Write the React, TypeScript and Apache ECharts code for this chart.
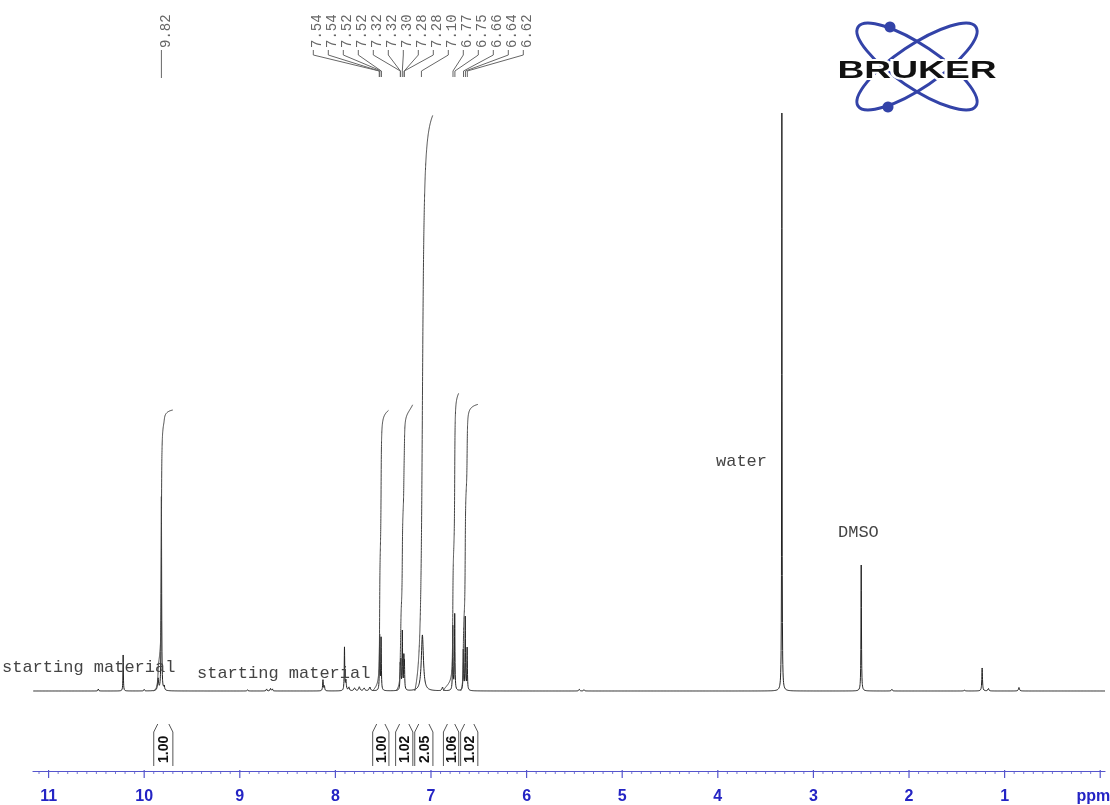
import React, { useEffect, useRef } from "react";
import * as echarts from "echarts";

// ---- spectrum peaks (ppm, height above baseline in plot units, half width in ppm)
const peakPpm = [10.48, 10.22, 10.0, 9.855, 9.82, 9.79, 8.92, 8.72, 8.68, 8.66, 8.13, 8.115, 7.905, 7.89, 7.86, 7.8, 7.75, 7.7, 7.64, 7.537, 7.522, 7.322, 7.316, 7.3, 7.284, 7.278, 7.09, 6.88, 6.772, 6.752, 6.662, 6.642, 6.622, 5.45, 5.4, 3.33, 2.5, 2.18, 1.42, 1.235, 1.17, 0.85];
const peakHeight = [2, 36, 1.5, 12, 194, 4, 1.5, 2.5, 3, 2.5, 11, 5, 43, 10, 4, 3, 4, 3, 4, 55, 52, 22, 26, 58, 30, 24, 56, 4, 64, 76, 40, 73, 42, 2, 1.5, 578, 126, 2, 1, 23, 3, 3.5];
const peakWidth = [0.004, 0.0025, 0.004, 0.006, 0.003, 0.004, 0.004, 0.004, 0.004, 0.004, 0.004, 0.004, 0.003, 0.005, 0.006, 0.008, 0.008, 0.008, 0.008, 0.003, 0.003, 0.003, 0.003, 0.003, 0.003, 0.003, 0.013, 0.006, 0.003, 0.003, 0.003, 0.003, 0.003, 0.005, 0.005, 0.0022, 0.0028, 0.005, 0.006, 0.004, 0.005, 0.006];

// ---- integrals
const integralFrom = [9.9, 7.61, 7.37, 7.17, 6.87, 6.69];
const integralTo = [9.7, 7.44, 7.19, 6.98, 6.71, 6.51];
const integralValue = [1.0, 1.0, 1.02, 2.05, 1.06, 1.02];
const integralLabels = ["1.00", "1.00", "1.02", "2.05", "1.06", "1.02"];

// ---- peak picking labels
const singleLabel = "9.82";
const singleLabelPpm = 9.82;
const groupLabels = ["7.54", "7.54", "7.52", "7.52", "7.32", "7.32", "7.30", "7.28", "7.28", "7.10", "6.77", "6.75", "6.66", "6.64", "6.62"];
const groupLabelPpm = [7.54, 7.54, 7.52, 7.52, 7.32, 7.32, 7.3, 7.28, 7.28, 7.1, 6.77, 6.75, 6.66, 6.64, 6.62];

// ---- axis ticks
const majorTickValues = [11, 10, 9, 8, 7, 6, 5, 4, 3, 2, 1, 0];
const majorTickLabels = ["11", "10", "9", "8", "7", "6", "5", "4", "3", "2", "1", "ppm"];

// ---- text annotations
const noteTexts = ["starting material", "starting material", "water", "DMSO"];

const X_MIN = -0.05;
const X_MAX = 11.163;
const INTEGRAL_SCALE = 281;

function spec(x: number): number {
  let s = 0;
  for (let i = 0; i < peakPpm.length; i++) {
    const d = (x - peakPpm[i]) / peakWidth[i];
    s += peakHeight[i] / (1 + d * d);
  }
  return s;
}

export default function App() {
  const ref = useRef<HTMLDivElement>(null);
  useEffect(() => {
    const chart = echarts.init(ref.current!, null, { renderer: "svg" });

    const xs: number[] = [];
    for (let i = 0; ; i++) {
      const x = X_MIN + i * 0.002;
      if (x > X_MAX) break;
      xs.push(x);
    }
    const offs = [-8, -4, -2, -1, -0.5, 0, 0.5, 1, 2, 4, 8];
    peakPpm.forEach((p, i) => offs.forEach((o) => xs.push(p + o * peakWidth[i])));
    xs.sort((a, b) => a - b);
    const specData = xs.map((x) => [x, spec(x)]);

    const integralSeries = integralFrom.map((from, k) => {
      const to = integralTo[k];
      const pts: number[] = [];
      const n = 600;
      for (let i = 0; i <= n; i++) pts.push(from - ((from - to) * i) / n);
      const cum: number[] = [0];
      for (let i = 1; i < pts.length; i++) {
        cum.push(cum[i - 1] + ((spec(pts[i - 1]) + spec(pts[i])) / 2) * (pts[i - 1] - pts[i]));
      }
      const total = cum[cum.length - 1];
      return {
        type: "line",
        data: pts.map((x, i) => [x, (cum[i] / total) * integralValue[k] * INTEGRAL_SCALE]),
        showSymbol: false,
        silent: true,
        lineStyle: { color: "#444", width: 1 },
        z: 3,
      };
    });

    chart.setOption({
      animation: false,
      grid: { left: 33, right: 5, top: 0, bottom: 34 },
      xAxis: {
        type: "value",
        min: X_MIN,
        max: X_MAX,
        inverse: true,
        axisLine: { show: true, onZero: false, lineStyle: { color: "#5555cc", width: 1.2 } },
        axisTick: { show: false },
        axisLabel: { show: false },
        splitLine: { show: false },
      },
      yAxis: { type: "value", min: -80, max: 691, show: false, splitLine: { show: false } },
      series: [
        {
          type: "line",
          data: specData,
          showSymbol: false,
          silent: true,
          lineStyle: { color: "#222", width: 1 },
          z: 2,
        },
        ...integralSeries,
      ],
    });

    const px = (v: number) => chart.convertToPixel({ xAxisIndex: 0 }, v) as number;
    const els: any[] = [];
    const axisY = 771;
    const blue = "#2424c4";
    const tickColor = "#5555cc";

    majorTickValues.forEach((v, i) => {
      const x = px(v);
      els.push({ type: "line", shape: { x1: x, y1: axisY - 1, x2: x, y2: axisY + 7 }, style: { stroke: tickColor, lineWidth: 1.2 }, silent: true });
      const isUnit = majorTickLabels[i] === "ppm";
      els.push({
        type: "text",
        x: isUnit ? x + 10 : x,
        y: 795,
        style: { text: majorTickLabels[i], font: 'bold 16px "Liberation Sans"', fill: blue, align: isUnit ? "right" : "center", verticalAlign: "middle" },
        silent: true,
      });
    });
    for (let i = 1; i <= 111; i++) {
      if (i % 10 === 0) continue;
      const x = px(i / 10);
      els.push({ type: "line", shape: { x1: x, y1: axisY, x2: x, y2: axisY + 3 }, style: { stroke: tickColor, lineWidth: 0.8 }, silent: true });
    }

    const labelFont = '14px "Liberation Mono"';
    const labelColor = "#666";
    {
      const x = px(singleLabelPpm);
      els.push({ type: "line", shape: { x1: x, y1: 50, x2: x, y2: 78 }, style: { stroke: labelColor, lineWidth: 1 }, silent: true });
      els.push({ type: "text", x: x + 5, y: 48, rotation: Math.PI / 2, style: { text: singleLabel, font: labelFont, fill: labelColor, align: "left", verticalAlign: "middle" }, silent: true });
    }
    groupLabels.forEach((t, i) => {
      const lx = 313.3 + i * 15;
      const tx = px(groupLabelPpm[i]);
      els.push({ type: "polyline", shape: { points: [[lx, 50], [lx, 55], [tx, 71], [tx, 77]] }, style: { stroke: labelColor, lineWidth: 1, fill: "none" }, silent: true });
      els.push({ type: "text", x: lx + 4, y: 48, rotation: Math.PI / 2, style: { text: t, font: labelFont, fill: labelColor, align: "left", verticalAlign: "middle" }, silent: true });
    });

    integralFrom.forEach((from, k) => {
      const x1 = px(from);
      const x2 = px(integralTo[k]);
      const c = "#555";
      els.push({ type: "polyline", shape: { points: [[x1 + 4, 724], [x1, 732], [x1, 766]] }, style: { stroke: c, lineWidth: 1, fill: "none" }, silent: true });
      els.push({ type: "polyline", shape: { points: [[x2 - 4, 724], [x2, 732], [x2, 766]] }, style: { stroke: c, lineWidth: 1, fill: "none" }, silent: true });
      els.push({
        type: "text",
        x: (x1 + x2) / 2,
        y: 763,
        rotation: Math.PI / 2,
        style: { text: integralLabels[k], font: 'bold 14px "Liberation Sans"', fill: "#111", align: "left", verticalAlign: "middle" },
        silent: true,
      });
    });

    const notePos = [
      [2, 667],
      [197, 673],
      [716, 461],
      [838, 532],
    ];
    noteTexts.forEach((t, i) => {
      els.push({ type: "text", x: notePos[i][0], y: notePos[i][1], style: { text: t, font: '17px "Liberation Mono"', fill: "#444", align: "left", verticalAlign: "middle" }, silent: true, z: 10 });
    });

    const logoBlue = "#3343a8";
    const deg = Math.PI / 180;
    els.push({ type: "ellipse", x: 917, y: 66.5, rotation: 34 * deg, shape: { cx: 0, cy: 0, rx: 71, ry: 21.3 }, style: { fill: "none", stroke: logoBlue, lineWidth: 3 }, silent: true });
    els.push({ type: "ellipse", x: 917, y: 66.5, rotation: -34 * deg, shape: { cx: 0, cy: 0, rx: 71, ry: 21.3 }, style: { fill: "none", stroke: logoBlue, lineWidth: 3 }, silent: true });
    els.push({ type: "circle", shape: { cx: 890, cy: 27, r: 5.5 }, style: { fill: logoBlue }, silent: true });
    els.push({ type: "circle", shape: { cx: 888, cy: 107, r: 5.5 }, style: { fill: logoBlue }, silent: true });
    els.push({
      type: "text",
      x: 917,
      y: 70,
      scaleX: 1.55,
      style: { text: "BRUKER", font: 'bold 24px "Liberation Sans"', fill: "#111", stroke: "#fff", lineWidth: 4, align: "center", verticalAlign: "middle" },
      silent: true,
    });

    chart.setOption({ graphic: { elements: els } });
    return () => chart.dispose();
  }, []);
  return <div ref={ref} style={{ position: "fixed", left: 0, top: 0, width: 1110, height: 805 }} />;
}
